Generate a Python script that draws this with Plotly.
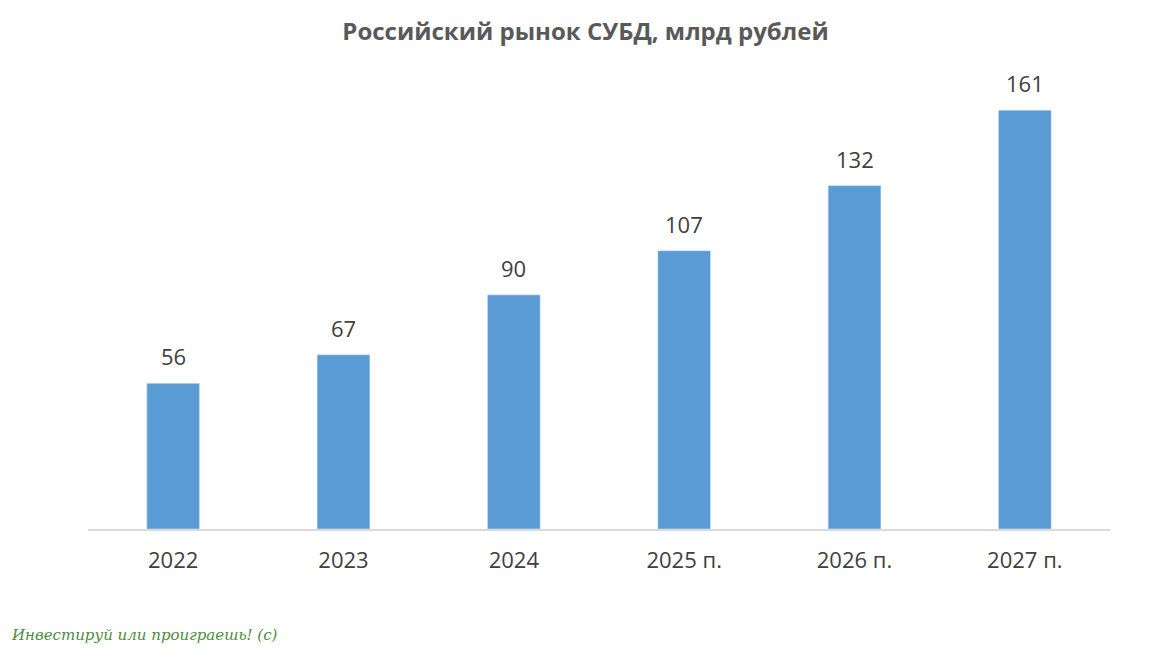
import plotly.graph_objects as go

years = ["2022", "2023", "2024", "2025 п.", "2026 п.", "2027 п."]
values = [56, 67, 90, 107, 132, 161]

fig = go.Figure()
fig.add_trace(go.Bar(x=years, y=values, marker_color="#5B9BD5"))

# value labels a bit higher above the bars (x = category index)
for i, v in enumerate(values):
    fig.add_annotation(x=i, y=v, text=str(v), showarrow=False,
                       yanchor="bottom", yshift=10,
                       font=dict(size=22, color="#404040"))

fig.update_layout(
    width=1155, height=669,
    margin=dict(l=80, r=53, t=72, b=148),
    paper_bgcolor="white", plot_bgcolor="white",
    font=dict(family="Open Sans, sans-serif"),
    title=dict(text="<b>Российский рынок СУБД, млрд рублей</b>",
               x=0.5, y=0.978, xanchor="center", yanchor="top",
               font=dict(size=24, color="#595959")),
    bargap=0.69,
    showlegend=False,
)
fig.update_xaxes(type="category", categoryorder="array", categoryarray=years,
                 showline=True, linecolor="#D9D9D9", linewidth=1.5,
                 tickfont=dict(size=22, color="#404040"), ticks="",
                 ticklabelstandoff=11)
fig.update_yaxes(visible=False, range=[0, 172.6])

fig.add_annotation(text="<i>Инвестируй или проиграешь! (с)</i>",
                   xref="paper", yref="paper", x=-0.077, y=-0.235,
                   xanchor="left", yanchor="middle", showarrow=False,
                   font=dict(size=15, color="#4E8C3A", family="DejaVu Serif"))

fig.write_html("out.html")
